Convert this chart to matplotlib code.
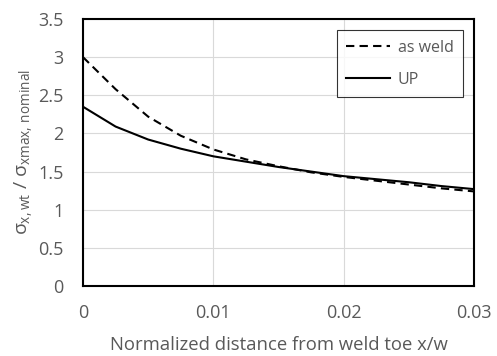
import matplotlib
matplotlib.use("Agg")
import matplotlib.pyplot as plt

x_vals = [0, 0.0025, 0.005, 0.0075, 0.01, 0.0125, 0.015, 0.0175, 0.02, 0.0225, 0.025, 0.0275, 0.03]
as_weld = [3.0, 2.58, 2.22, 1.97, 1.79, 1.66, 1.57, 1.49, 1.43, 1.38, 1.33, 1.28, 1.24]
up = [2.35, 2.09, 1.92, 1.80, 1.70, 1.63, 1.56, 1.50, 1.44, 1.40, 1.36, 1.31, 1.27]
x_ticks = [0, 0.01, 0.02, 0.03]
x_tick_labels = ["0", "0.01", "0.02", "0.03"]
y_ticks = [0, 0.5, 1, 1.5, 2, 2.5, 3, 3.5]
y_tick_labels = ["0", "0.5", "1", "1.5", "2", "2.5", "3", "3.5"]

plt.rcParams['font.family'] = ['Open Sans', 'DejaVu Sans']
plt.rcParams['mathtext.fontset'] = 'custom'
plt.rcParams['mathtext.rm'] = 'Open Sans'
plt.rcParams['mathtext.it'] = 'Open Sans'
plt.rcParams['mathtext.bf'] = 'Open Sans'

gray = '#595959'
fig = plt.figure(figsize=(4.97, 3.56), dpi=100)
ax = fig.add_axes([83/497, 70/356, 391/497, 267/356])

ax.plot(x_vals, as_weld, color='black', lw=1.5, linestyle=(0, (4, 2.5)), label='as weld')
ax.plot(x_vals, up, color='black', lw=1.5, label='UP')

ax.set_xlim(0, 0.03)
ax.set_ylim(0, 3.5)
ax.set_xticks(x_ticks)
ax.set_xticklabels(x_tick_labels)
ax.set_yticks(y_ticks)
ax.set_yticklabels(y_tick_labels)
ax.tick_params(axis='both', length=0, labelsize=13, labelcolor=gray)
ax.tick_params(axis='x', pad=13)
ax.tick_params(axis='y', pad=14)
ax.grid(True, color='#d9d9d9', lw=0.8)
ax.set_axisbelow(True)
for s in ax.spines.values():
    s.set_color('black')
    s.set_linewidth(1.5)

ax.set_xlabel('Normalized distance from weld toe x/w', fontsize=13.3, color=gray, labelpad=10)
ax.set_ylabel(r'$\sigma_{\mathrm{x,wt}}$ / $\sigma_{\mathrm{xmax,\,nominal}}$', fontsize=14, color=gray, labelpad=2)

leg = ax.legend(loc='upper right', bbox_to_anchor=(0.972, 0.959), frameon=True, fancybox=False,
                edgecolor='black', fontsize=11.5, labelspacing=1.0, handlelength=2.7,
                borderpad=0.6, handletextpad=0.5, borderaxespad=0)
leg.get_frame().set_linewidth(0.8)
for t in leg.get_texts():
    t.set_color(gray)

fig.savefig('out.png', dpi=100)
